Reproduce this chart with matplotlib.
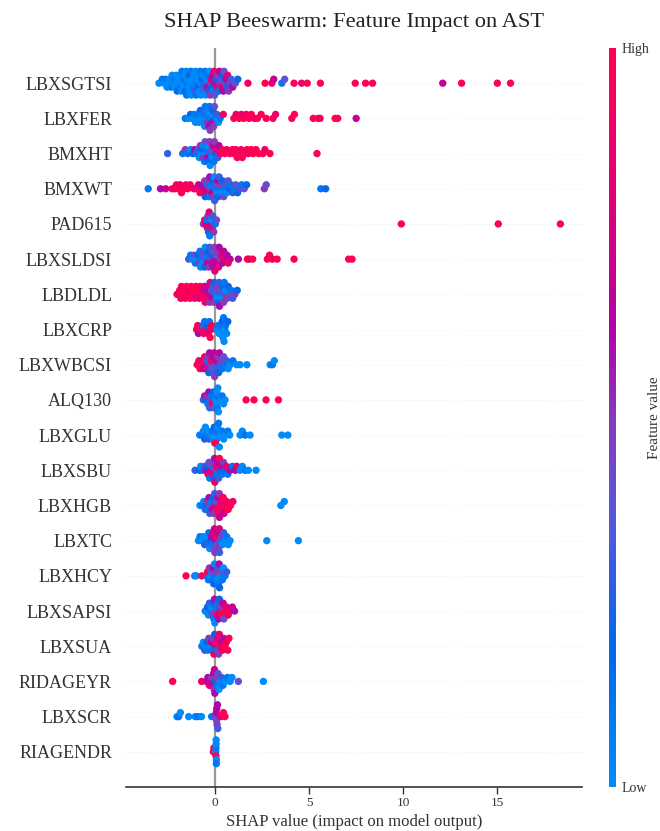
import numpy as np
import matplotlib
matplotlib.use("Agg")
import matplotlib.pyplot as plt
from matplotlib.colors import LinearSegmentedColormap, Normalize
from matplotlib.colorbar import ColorbarBase

plt.rcParams['font.family'] = ['Liberation Serif', 'DejaVu Serif']

# features, most important first
features = ['LBXSGTSI', 'LBXFER', 'BMXHT', 'BMXWT', 'PAD615', 'LBXSLDSI', 'LBDLDL',
            'LBXCRP', 'LBXWBCSI', 'ALQ130', 'LBXGLU', 'LBXSBU', 'LBXHGB', 'LBXTC',
            'LBXHCY', 'LBXSAPSI', 'LBXSUA', 'RIDAGEYR', 'LBXSCR', 'RIAGENDR']

# shap values and scaled feature values (0 = low, 10 = high) per feature
lbxsgtsi_shap = [-2.98, -2.80,
                 -2.71, -2.62, -2.55,
                 -2.47, -2.41, -2.33, -2.28,
                 -2.22, -2.15, -2.10, -2.06, -2.01,
                 -1.97, -1.92, -1.85, -1.81, -1.78, -1.76,
                 -1.73, -1.68, -1.64, -1.60, -1.57, -1.53, -1.51,
                 -1.49, -1.44, -1.40, -1.36, -1.31, -1.28, -1.26,
                 -1.24, -1.20, -1.15, -1.11, -1.07, -1.03, -1.01,
                 -0.98, -0.94, -0.90, -0.85, -0.82, -0.79, -0.76,
                 -0.74, -0.70, -0.66, -0.61, -0.57, -0.54, -0.51,
                 -0.49, -0.45, -0.41, -0.37, -0.33, -0.29, -0.26,
                 -0.24, -0.20, -0.16, -0.12, -0.08, -0.05, -0.02,
                 0.02, 0.06, 0.10, 0.14, 0.19, 0.23,
                 0.27, 0.31, 0.36, 0.40, 0.44, 0.48,
                 0.53, 0.58, 0.63, 0.67, 0.72,
                 0.79, 0.86, 0.94,
                 1.08, 1.21,
                 1.75, 2.66, 3.02, 3.12, 3.55, 3.70, 4.20, 4.60, 4.90, 5.60,
                 7.45, 8.00, 8.37, 12.10, 13.10, 15.00, 15.70]
lbxsgtsi_val = [0, 1,
                0, 1, 0,
                0, 0, 1, 0,
                0, 1, 0, 0, 2,
                0, 0, 1, 0, 0, 1,
                0, 1, 0, 0, 2, 0, 1,
                1, 0, 0, 2, 0, 1, 0,
                0, 0, 1, 0, 3, 0, 1,
                1, 0, 2, 0, 0, 1, 0,
                0, 2, 1, 0, 4, 1, 0,
                3, 0, 6, 1, 2, 0, 5,
                5, 8, 2, 6, 1, 9, 4,
                6, 2, 9, 5, 1, 7,
                5, 3, 8, 2, 6, 4,
                4, 6, 2, 8, 5,
                5, 3, 6,
                4, 2,
                9, 10, 9, 7, 1, 4, 10, 9, 10, 10,
                10, 10, 10, 7, 10, 10, 10]

lbxfer_shap = [-1.58,
               -1.42, -1.30,
               -1.22, -1.12, -1.04,
               -0.97, -0.90, -0.83, -0.78,
               -0.73, -0.68, -0.63, -0.58, -0.55, -0.52,
               -0.48, -0.44, -0.40, -0.36, -0.32, -0.29, -0.26,
               -0.23, -0.19, -0.15, -0.11, -0.07, -0.03,
               0.03, 0.10, 0.18,
               0.27, 0.44,
               1.00, 1.12, 1.28, 1.40, 1.52, 1.66, 1.80, 1.93, 2.08, 2.25, 2.45, 2.72,
               3.08, 3.22, 4.08, 4.22, 5.22, 5.48, 5.58, 6.38, 6.52, 7.50]
lbxfer_val = [1,
              0, 2,
              0, 1, 0,
              0, 1, 0, 2,
              0, 1, 0, 3, 0, 1,
              0, 1, 5, 0, 6, 1, 5,
              1, 0, 6, 2, 5, 4,
              1, 3, 0,
              1, 9,
              10, 9, 10, 9, 10, 9, 10, 10, 9, 10, 10, 10,
              10, 9, 10, 10, 10, 10, 9, 10, 10, 7]

bmxht_shap = [-2.52,
              -1.72, -1.58,
              -1.45, -1.30,
              -1.18, -1.08,
              -0.98, -0.90, -0.84, -0.78,
              -0.74, -0.69, -0.64, -0.60, -0.56, -0.53,
              -0.49, -0.45, -0.41, -0.37, -0.33, -0.29, -0.26,
              -0.23, -0.19, -0.14, -0.10, -0.06, -0.03,
              0.02, 0.08, 0.15, 0.21,
              0.30, 0.38, 0.52, 0.62, 0.78, 0.92, 1.02, 1.10, 1.18, 1.30, 1.38, 1.45,
              1.58, 1.70, 1.78, 1.92, 2.02, 2.18, 2.32, 2.55, 2.65, 2.92, 5.42]
bmxht_val = [3,
             1, 5,
             1, 0,
             2, 6,
             1, 3, 0, 5,
             0, 2, 5, 0, 1, 4,
             0, 1, 6, 0, 2, 5, 0,
             1, 4, 0, 7, 1, 5,
             2, 8, 3, 6,
             9, 10, 10, 9, 10, 10, 9, 10, 10, 10, 9, 10,
             10, 10, 9, 10, 10, 10, 10, 10, 9, 10, 10]

bmxwt_shap = [-3.55, -2.90, -2.62,
              -2.28, -2.15, -2.05, -1.95, -1.86, -1.78, -1.65, -1.55, -1.45, -1.32,
              -1.12, -0.98, -0.88, -0.80,
              -0.72, -0.66, -0.60, -0.55, -0.52,
              -0.48, -0.44, -0.40, -0.36, -0.31, -0.28,
              -0.24, -0.20, -0.16, -0.12, -0.08, -0.04, -0.02,
              0.02, 0.06, 0.10, 0.14, 0.18, 0.22,
              0.27, 0.31, 0.36, 0.41, 0.46,
              0.52, 0.58, 0.63, 0.70,
              0.78, 0.86, 0.94,
              1.02, 1.10, 1.20,
              1.30, 1.42, 1.55, 1.68,
              2.62, 2.72, 5.62, 5.88]
bmxwt_val = [1, 6, 7,
             10, 9, 10, 10, 9, 10, 10, 9, 10, 10,
             8, 9, 7, 10,
             8, 6, 9, 5, 2,
             7, 3, 8, 5, 1, 6,
             4, 1, 7, 2, 5, 0, 3,
             1, 4, 0, 6, 2, 3,
             1, 5, 0, 2, 4,
             1, 3, 0, 4,
             2, 1, 3,
             1, 4, 2,
             3, 1, 4, 2,
             5, 4, 1, 2]

pad615_shap = [-0.62, -0.55,
               -0.48, -0.44, -0.41, -0.38, -0.35, -0.31, -0.28,
               -0.24, -0.20, -0.16, -0.12, -0.07,
               0.02, 0.08,
               9.90, 15.05, 18.35]
pad615_val = [5, 9,
              7, 1, 9, 5, 2, 8, 1,
              6, 0, 9, 3, 5,
              1, 4,
              10, 10, 10]

lbxsldsi_shap = [-1.40, -1.30,
                 -1.20, -1.12, -1.05,
                 -0.98, -0.92, -0.86, -0.80, -0.77,
                 -0.73, -0.68, -0.64, -0.59, -0.55, -0.52,
                 -0.48, -0.44, -0.40, -0.36, -0.32, -0.28,
                 -0.23, -0.19, -0.15, -0.11, -0.07, -0.03, -0.01,
                 0.03, 0.07, 0.11, 0.15, 0.19, 0.22,
                 0.28, 0.34, 0.40, 0.46,
                 0.55, 0.64, 0.70,
                 0.80,
                 1.24, 1.72, 1.82, 2.00, 2.78, 2.90, 3.05, 3.30, 4.20, 7.10, 7.28]
lbxsldsi_val = [3, 1,
                0, 4, 1,
                0, 2, 5, 1, 0,
                1, 3, 0, 5, 2, 0,
                4, 1, 6, 2, 5, 3,
                5, 2, 7, 4, 6, 5, 8,
                6, 4, 7, 5, 8, 6,
                5, 8, 6, 7,
                8, 6, 9,
                7,
                6, 10, 9, 10, 10, 10, 9, 10, 10, 10, 10]

lbdldl_shap = [-2.02, -1.95, -1.88, -1.82, -1.78,
               -1.72, -1.65, -1.58, -1.52,
               -1.46, -1.40, -1.33, -1.27,
               -1.22, -1.15, -1.08, -1.02,
               -0.97, -0.91, -0.85, -0.79,
               -0.73, -0.68, -0.62, -0.56, -0.52,
               -0.48, -0.43, -0.38, -0.34, -0.29, -0.26,
               -0.23, -0.19, -0.15, -0.11, -0.07, -0.03,
               0.02, 0.06, 0.10, 0.14, 0.18, 0.22, 0.24,
               0.27, 0.32, 0.37, 0.42, 0.46, 0.49,
               0.53, 0.58, 0.64, 0.70,
               0.78, 0.86, 0.94,
               1.05, 1.18]
lbdldl_val = [10, 9, 10, 10, 9,
              10, 10, 9, 10,
              10, 9, 10, 10,
              10, 10, 9, 10,
              9, 10, 8, 10,
              9, 8, 10, 7, 9,
              8, 6, 9, 7, 5, 8,
              6, 4, 7, 3, 5, 2,
              1, 4, 0, 5, 2, 3, 6,
              1, 4, 0, 2, 5, 1,
              3, 0, 5, 2,
              4, 1, 3,
              5, 2]

lbxcrp_shap = [-0.98, -0.92, -0.88,
               -0.72, -0.66, -0.60, -0.55,
               -0.48, -0.42, -0.36, -0.30, -0.26,
               -0.21, -0.18,
               0.10, 0.16, 0.22,
               0.27, 0.31, 0.35, 0.38, 0.42, 0.45, 0.48,
               0.52, 0.56, 0.62, 0.68]
lbxcrp_val = [10, 9, 6,
              10, 3, 9, 1,
              10, 2, 8, 1, 10,
              9, 10,
              0, 1, 0,
              0, 1, 0, 2, 0, 1, 0,
              0, 1, 0, 2]

lbxwbcsi_shap = [-0.95, -0.86, -0.80,
                 -0.72, -0.66, -0.60, -0.55,
                 -0.49, -0.45, -0.41, -0.37, -0.33, -0.29,
                 -0.24, -0.20, -0.16, -0.12, -0.08, -0.05, -0.02,
                 0.03, 0.07, 0.11, 0.15, 0.19, 0.23,
                 0.28, 0.34, 0.40, 0.46,
                 0.54, 0.62, 0.70,
                 0.80, 0.95,
                 1.15, 1.33, 1.69,
                 2.93, 3.05, 3.15]
lbxwbcsi_val = [10, 9, 10,
                10, 9, 7, 10,
                6, 3, 8, 5, 2, 6,
                5, 9, 4, 6, 3, 7, 5,
                4, 6, 3, 5, 2, 6,
                3, 5, 1, 4,
                1, 3, 0,
                0, 1,
                0, 0, 0,
                0, 1, 0]

alq130_shap = [-0.62, -0.55,
               -0.48, -0.43, -0.38, -0.33, -0.28,
               -0.23, -0.18, -0.13, -0.09, -0.05,
               0.03, 0.06, 0.08, 0.10, 0.12, 0.15, 0.18,
               0.30, 0.38, 0.45,
               0.53,
               1.65, 2.07, 2.71, 3.37]
alq130_val = [3, 6,
              2, 5, 1, 6, 3,
              5, 1, 9, 2, 4,
              0, 1, 0, 0, 1, 0, 0,
              0, 1, 0,
              0,
              10, 10, 10, 10]

lbxglu_shap = [-0.82, -0.70,
               -0.62, -0.55, -0.51,
               -0.45, -0.38, -0.31,
               -0.22, -0.15, -0.08, -0.04, -0.02,
               0.04, 0.07, 0.10, 0.14, 0.02, 0.19, 0.23,
               0.30, 0.38, 0.46,
               0.55, 0.68,
               0.78,
               1.33, 1.45, 1.60, 1.86,
               3.55, 3.87]
lbxglu_val = [0, 1,
              0, 2, 0,
              1, 0, 3,
              0, 1, 0, 2, 0,
              0, 1, 0, 0, 10, 1, 0,
              0, 1, 0,
              0, 1,
              0,
              0, 0, 1, 0,
              0, 0]

lbxsbu_shap = [-1.06,
               -0.82, -0.76,
               -0.66, -0.55,
               -0.48, -0.42, -0.37, -0.32, -0.28,
               -0.23, -0.18, -0.14, -0.10, -0.06, -0.03, -0.01,
               0.03, 0.07, 0.11, 0.15, 0.19, 0.23,
               0.28, 0.33, 0.39, 0.45,
               0.52, 0.60, 0.68,
               0.80, 0.92,
               1.08, 1.15,
               1.33, 1.45, 1.60, 1.77,
               2.18]
lbxsbu_val = [3,
              2, 0,
              1, 4,
              6, 2, 8, 4, 1,
              7, 3, 9, 5, 2, 6, 8,
              5, 9, 1, 6, 3, 10,
              2, 7, 1, 5,
              2, 8, 1,
              7, 1,
              6, 8,
              0, 0, 1, 0,
              0]

lbxhgb_shap = [-0.80, -0.66,
               -0.60, -0.52,
               -0.47, -0.42, -0.37, -0.32, -0.28,
               -0.23, -0.19, -0.15, -0.10, -0.06, -0.02,
               0.03, 0.07, 0.11, 0.15, 0.19, 0.23, 0.24,
               0.28, 0.33, 0.38, 0.44, 0.48,
               0.55, 0.62, 0.70,
               0.82, 0.95,
               3.50, 3.68]
lbxhgb_val = [0, 1,
              0, 3,
              2, 5, 1, 6, 3,
              4, 1, 6, 2, 5, 3,
              8, 4, 9, 6, 10, 5, 7,
              10, 8, 9, 10, 7,
              10, 9, 10,
              10, 9,
              0, 0]

lbxtc_shap = [-0.88, -0.80,
              -0.70, -0.62, -0.55,
              -0.48, -0.43, -0.38, -0.33, -0.28,
              -0.23, -0.18, -0.14, -0.10, -0.06, -0.03, -0.01,
              0.03, 0.07, 0.11, 0.15, 0.19, 0.23, 0.24,
              0.28, 0.34, 0.40, 0.46,
              0.54, 0.62, 0.70,
              0.80,
              2.75, 4.43]
lbxtc_val = [0, 1,
             0, 0, 2,
             1, 0, 3, 1, 0,
             2, 6, 1, 8, 4, 7, 5,
             6, 9, 4, 7, 5, 8, 3,
             1, 5, 0, 3,
             0, 1, 0,
             0,
             0, 0]

lbxhcy_shap = [-1.54,
               -1.08, -1.00,
               -0.70,
               -0.45, -0.40, -0.35, -0.30,
               -0.23, -0.19, -0.15, -0.11, -0.07, -0.03,
               0.02, 0.06, 0.10, 0.14, 0.18, 0.22, 0.24,
               0.28, 0.33, 0.39, 0.45,
               0.53, 0.62]
lbxhcy_val = [10,
              1, 0,
              10,
              3, 10, 1, 5,
              0, 4, 1, 6, 2, 0,
              1, 5, 0, 3, 1, 6, 2,
              0, 4, 1, 0,
              1, 3]

lbxsapsi_shap = [-0.52, -0.46, -0.40, -0.35, -0.30,
                 -0.23, -0.19, -0.14, -0.10, -0.06, -0.03, -0.01,
                 0.03, 0.07, 0.11, 0.15, 0.19, 0.23,
                 0.28, 0.33, 0.38, 0.43, 0.47,
                 0.55, 0.62, 0.70,
                 0.80, 0.92,
                 1.04]
lbxsapsi_val = [1, 0, 2, 0, 3,
                1, 0, 5, 2, 1, 6, 0,
                4, 1, 8, 3, 6, 2,
                9, 5, 10, 7, 4,
                10, 8, 9,
                10, 7,
                6]

lbxsua_shap = [-0.70, -0.62, -0.55,
               -0.48, -0.43, -0.38, -0.33,
               -0.24, -0.20, -0.15, -0.11, -0.06, -0.02,
               0.03, 0.07, 0.11, 0.15, 0.19, 0.23,
               0.28, 0.33, 0.39, 0.45,
               0.53, 0.60, 0.68,
               0.74]
lbxsua_val = [1, 0, 3,
              0, 2, 1, 5,
              0, 7, 1, 4, 9, 2,
              6, 10, 3, 8, 5, 9,
              10, 7, 9, 6,
              10, 9, 10,
              10]

ridageyr_shap = [-2.25,
                 -0.71,
                 -0.45, -0.38, -0.30,
                 -0.23, -0.18, -0.12, -0.08, -0.05, -0.03, -0.01,
                 0.03, 0.07, 0.11, 0.16, 0.21,
                 0.28, 0.35, 0.42,
                 0.55, 0.66,
                 0.80, 0.90,
                 1.24,
                 2.57]
ridageyr_val = [10,
                9,
                7, 6, 8,
                6, 5, 7, 6, 5, 7, 6,
                2, 5, 1, 4, 0,
                0, 3, 1,
                0, 1,
                0, 0,
                4,
                0]

lbxscr_shap = [-2.02, -1.93, -1.84,
               -1.40,
               -1.05, -0.90,
               -0.72,
               -0.18,
               0.04, 0.06, 0.08, 0.09, 0.11, 0.13, 0.15,
               0.30, 0.45, 0.53]
lbxscr_val = [0, 1, 0,
              0,
              0, 1,
              0,
              1,
              5, 6, 4, 7, 5, 6, 3,
              8, 10, 10]

riagendr_shap = [-0.09, -0.06,
                 0.04, 0.05, 0.05, 0.06, 0.07, 0.06, 0.07]
riagendr_val = [10, 10,
                0, 1, 10, 0, 0, 0, 1]

shap_values = [lbxsgtsi_shap, lbxfer_shap, bmxht_shap, bmxwt_shap, pad615_shap,
               lbxsldsi_shap, lbdldl_shap, lbxcrp_shap, lbxwbcsi_shap, alq130_shap,
               lbxglu_shap, lbxsbu_shap, lbxhgb_shap, lbxtc_shap, lbxhcy_shap,
               lbxsapsi_shap, lbxsua_shap, ridageyr_shap, lbxscr_shap, riagendr_shap]
feature_values = [lbxsgtsi_val, lbxfer_val, bmxht_val, bmxwt_val, pad615_val,
                  lbxsldsi_val, lbdldl_val, lbxcrp_val, lbxwbcsi_val, alq130_val,
                  lbxglu_val, lbxsbu_val, lbxhgb_val, lbxtc_val, lbxhcy_val,
                  lbxsapsi_val, lbxsua_val, ridageyr_val, lbxscr_val, riagendr_val]


def swarm_offsets(x, bin_width=0.25, row_height=0.5):
    # stack points that fall in the same bin, alternating above/below the row
    x = np.asarray(x, dtype=float)
    bins = np.floor(x / bin_width).astype(int)
    order = np.argsort(bins, kind='stable')
    ys = np.zeros(len(x))
    layer = 0
    last = None
    for i in order:
        if bins[i] != last:
            layer = 0
        ys[i] = np.ceil(layer / 2) * ((layer % 2) * 2 - 1)
        layer += 1
        last = bins[i]
    ys *= 0.9 * (row_height / np.max(ys + 1))
    return ys


cmap = LinearSegmentedColormap.from_list('red_blue', [
    (0.0, '#008bfb'), (0.18, '#0068ec'), (0.36, '#5558d8'), (0.5, '#8a3ab8'),
    (0.62, '#b000a6'), (0.8, '#e00078'), (1.0, '#ff0052')])

fig = plt.figure(figsize=(6.6, 8.31), dpi=100)
ax = fig.add_axes([126 / 660, 44 / 831, 456 / 660, 739 / 831])

n = len(features)
for i, (sv, fv) in enumerate(zip(shap_values, feature_values)):
    assert len(sv) == len(fv), features[i]
    pos = n - 1 - i
    ax.axhline(pos, color='#cccccc', lw=0.5, dashes=(1, 5), zorder=-1)
    ys = swarm_offsets(sv)
    ax.scatter(sv, pos + ys, c=fv, cmap=cmap, vmin=0, vmax=10, s=28,
               linewidth=0, zorder=3)

ax.axvline(0, color='#999999', lw=1.6, zorder=-1)

ax.set_ylim(-1, n)
ax.set_xlim(-4.73, 19.5)
ax.set_yticks(range(n))
ax.set_yticklabels(features[::-1], fontsize=13, color='#333333')
ax.tick_params(axis='y', length=0, pad=10)
ax.set_xticks([0, 5, 10, 15])
ax.tick_params(axis='x', labelsize=9.5, length=5, width=1, pad=2,
               color='#333333', labelcolor='#333333')
for side in ['top', 'right', 'left']:
    ax.spines[side].set_visible(False)
ax.spines['bottom'].set_color('#333333')
ax.spines['bottom'].set_linewidth(1.2)
ax.set_xlabel('SHAP value (impact on model output)', fontsize=12, color='#333333',
              labelpad=4)

fig.text(354 / 660, 1 - 22 / 831, 'SHAP Beeswarm: Feature Impact on AST',
         ha='center', va='center', fontsize=16.2, color='#222222')

# colour bar
cax = fig.add_axes([609 / 660, 44 / 831, 7 / 660, 739 / 831])
cb = ColorbarBase(cax, cmap=cmap, norm=Normalize(0, 1), ticks=[0, 1])
cb.set_ticklabels(['Low', 'High'])
cb.outline.set_visible(False)
cax.tick_params(length=0, labelsize=10, pad=4, labelcolor='#333333')
fig.text(655 / 660, 1 - 417.5 / 831, 'Feature value', rotation=90,
         ha='center', va='center', fontsize=11, color='#333333')

fig.savefig('out.png', dpi=100)
